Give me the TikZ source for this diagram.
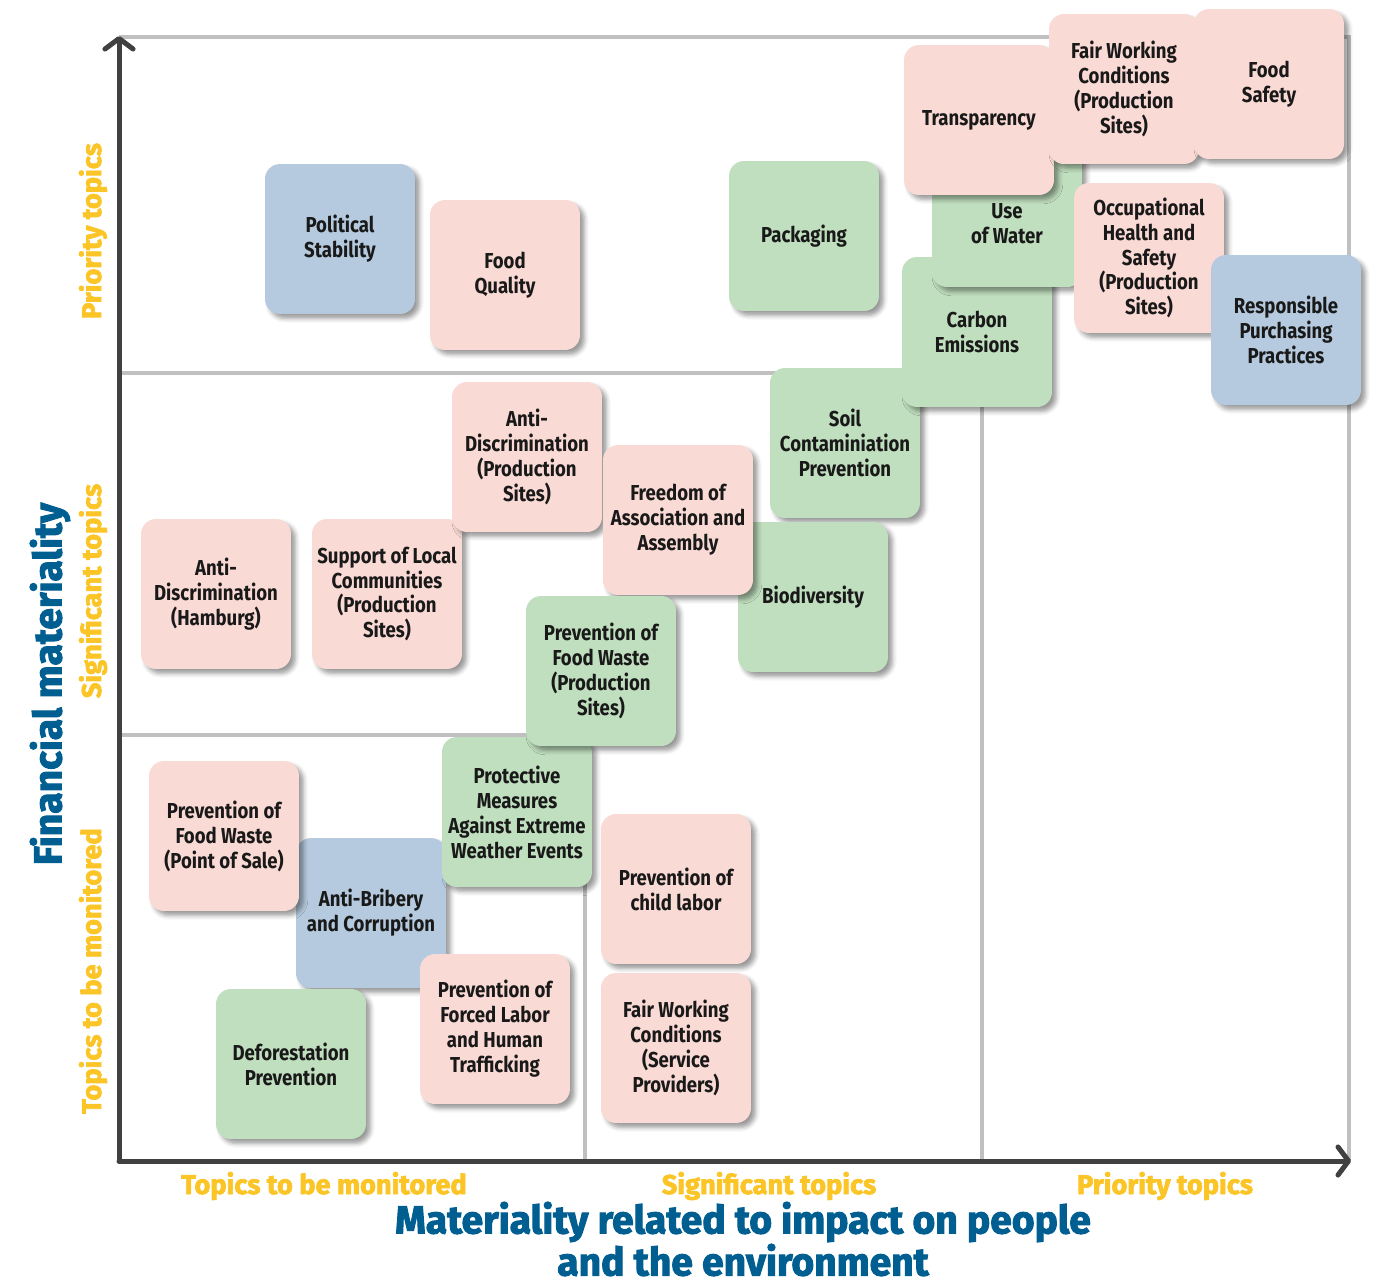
\documentclass[tikz,border=0pt]{standalone}
\usepackage{fontspec}
\setmainfont{Fira Sans}[FakeStretch=0.86]
\newfontfamily\headfont{Fira Sans}[BoldFeatures={FakeBold=2.5}]
\usepackage{tikz}
\usetikzlibrary{arrows.meta}
\usetikzlibrary{shadows.blur}
\definecolor{tpink}{RGB}{250,218,212}
\definecolor{tgreen}{RGB}{192,223,190}
\definecolor{tblue}{RGB}{181,202,222}
\definecolor{axisgray}{RGB}{64,64,64}
\definecolor{framegray}{RGB}{192,192,192}
\definecolor{titleblue}{RGB}{0,94,145}
\definecolor{tieryellow}{RGB}{251,197,40}
\newcommand{\boxfont}{\fontsize{12.3}{14.2}\selectfont\bfseries}

\begin{document}
\begin{tikzpicture}[x=0.02cm, y=-0.02cm,
                thick,
                topic/.style={fill=#1,
                    rectangle,
                    minimum width=3cm,
                    minimum height=3cm,
                    inner sep=0pt,
                    rounded corners=0.3cm,
                    align=center,
                    text=black!90,
                    font=\boxfont,
                    blur shadow={shadow xshift=2.5pt, shadow yshift=-2.5pt,
                        shadow blur radius=2.5pt, shadow opacity=40}},
                tier/.style={text=tieryellow,
                    font=\headfont\bfseries\fontsize{15.5}{17}\selectfont},
                axislabel/.style={text=titleblue, align=center, inner sep=0pt,
                    font=\headfont\bfseries\fontsize{22.2}{20.8}\selectfont},
                frame/.style={draw=framegray, line width=0.08cm},
                axis/.style={draw=axisgray, line width=0.1cm, line cap=round,
                    -{Straight Barb[length=6pt, width=16pt, round]}}]
                \useasboundingbox (0, 0) rectangle (1376, 1281);
                \coordinate (o) at (119, 1161);
                \coordinate (ytip) at (119, 36);
                \coordinate (xtip) at (1351, 1161);
                % outer frame and tier borders
                \draw[frame] (119, 37) -- (1349, 37) -- (1349, 1161);
                \draw[frame] (119, 373) -- (982, 373) -- (982, 1161);
                \draw[frame] (119, 735) -- (585, 735) -- (585, 1161);
                \draw[axis] (o) -- (ytip);
                \draw[axis] (o) -- (xtip);
                % priority row
                \node[topic=tblue](pstab) at (340, 239) {Political\\Stability};
                \node[topic=tpink](fqual) at (505, 275) {Food\\Quality};
                \node[topic=tgreen](pack) at (804, 236) {Packaging};
                \node[topic=tgreen](soil) at (845, 443) {Soil\\Contaminiation\\Prevention};
                \node[topic=tgreen](carbon) at (977, 332) {Carbon\\Emissions};
                \node[topic=tgreen, label={[align=center, font=\boxfont, text=black!90, yshift=-0.24cm]center:Use\\of Water}](water) at (1007, 212) {};
                \node[topic=tpink](transp) at (979, 120) {Transparency};
                \node[topic=tpink](fwcprod) at (1124, 89) {Fair Working\\Conditions\\(Production\\Sites)};
                \node[topic=tpink](fsafe) at (1269, 84) {Food\\Safety};
                \node[topic=tpink](ohs) at (1149, 258) {Occupational\\Health and\\Safety\\(Production\\Sites)};
                \node[topic=tblue](rpp) at (1286, 330) {Responsible\\Purchasing\\Practices};
                % significant row
                \node[topic=tpink](slc) at (387, 594) {Support of Local\\Communities\\(Production\\Sites)};
                \node[topic=tpink](adham) at (216, 594) {Anti-\\Discrimination\\(Hamburg)};
                \node[topic=tgreen](biodiv) at (813, 597) {Biodiversity};
                \node[topic=tpink](adprod) at (527, 457) {Anti-\\Discrimination\\(Production\\Sites)};
                \node[topic=tpink](freedom) at (678, 520) {Freedom of\\Association and\\Assembly};
                % monitored row
                \node[topic=tblue](abc) at (371, 913) {Anti-Bribery\\and Corruption};
                \node[topic=tpink](pfwpos) at (224, 836) {Prevention of\\Food Waste\\(Point of Sale)};
                \node[topic=tgreen](protect) at (517, 812) {Protective\\Measures\\Against Extreme\\Weather Events};
                \node[topic=tgreen](pfwprod) at (601, 671) {Prevention of\\Food Waste\\(Production\\Sites)};
                \node[topic=tgreen](defor) at (291, 1064) {Deforestation\\Prevention};
                \node[topic=tpink](forced) at (495, 1029) {Prevention of\\Forced Labor\\and Human\\Trafficking};
                \node[topic=tpink](child) at (676, 889) {Prevention of\\child labor};
                \node[topic=tpink](fwcserv) at (676, 1048) {Fair Working\\Conditions\\(Service\\Providers)};
                % axis titles
                \node[tier](xmon) at (324, 1186) {Topics to be monitored};
                \node[tier](xsig) at (769, 1186) {Significant topics};
                \node[tier](xpri) at (1165, 1186) {Priority topics};
                \node[tier, rotate=90](ymon) at (93, 971) {Topics to be monitored};
                \node[tier, rotate=90](ysig) at (93, 591) {Significant topics};
                \node[tier, rotate=90](ypri) at (93, 231) {Priority topics};
                \node[axislabel](xtitle) at (743, 1239) {Materiality related to impact on people\\and the environment};
                \node[axislabel, rotate=90](ytitle) at (50, 684) {Financial materiality};
            \end{tikzpicture}
\end{document}
